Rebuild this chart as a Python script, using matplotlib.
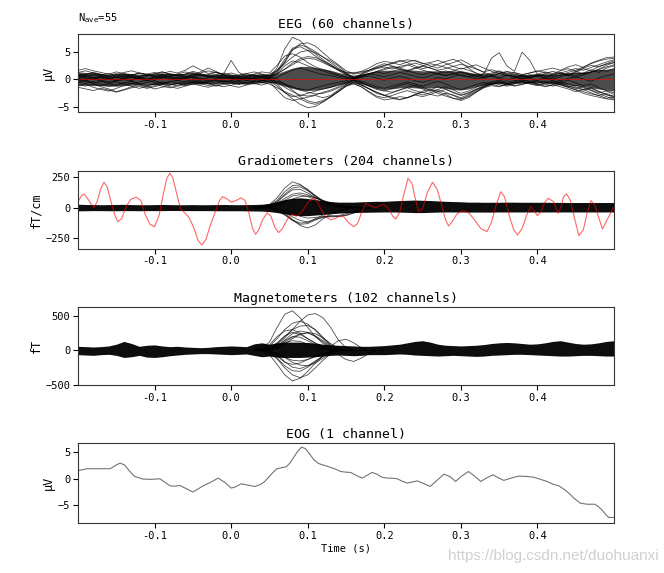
import numpy as np
import matplotlib
matplotlib.use("Agg")
import matplotlib.pyplot as plt

plt.rcParams['font.family'] = ['DejaVu Sans Mono', 'DejaVu Sans']

# ---------------- data ----------------
times = np.round(np.arange(-0.2, 0.5001, 0.01), 2)   # sample times (s)

# EEG channels (uV) sampled at `times`
eeg_ch = [
    [0.8,0.5,0.9,0.6,0.3,0.5,0.9,0.6,0.4,0.7, 0.5,0.2,0.6,0.9,0.5,0.3,0.8,0.4,0.6,0.3,
     0.2,0.5,0.3,0.6,0.4,0.3,2.0,5.5,7.6,7.0, 5.6,4.6,3.5,2.6,1.6,0.8,0.3,0.8,1.4,1.9,
     2.2,1.8,2.3,2.6,2.1,1.6,1.3,1.0,1.5,1.1, 0.6,0.4,0.8,0.3,0.6,0.2,0.7,0.4,0.1,0.3,
     0.5,0.2,0.0,0.4,0.8,1.1,0.9,1.3,1.6,1.4, 1.9],
    [1.2,1.5,1.1,0.8,1.0,0.6,0.3,0.7,1.1,0.8, 0.4,0.6,1.0,0.7,0.9,1.4,1.0,0.6,0.8,1.1,
     0.7,0.4,0.8,0.5,0.9,0.6,1.2,3.0,5.2,6.4, 6.6,6.0,4.8,3.6,2.6,1.5,1.0,1.4,2.0,2.8,
     3.2,3.0,2.6,3.1,3.4,2.9,2.4,2.0,2.6,3.0, 3.5,2.8,1.9,1.2,0.8,1.0,0.6,0.9,0.5,0.8,
     0.6,0.9,0.5,0.7,1.2,1.6,2.2,2.8,3.3,3.6, 3.8],
    [0.3,0.6,0.2,-0.2,0.1,0.4,0.0,-0.3,0.2,0.5, 0.9,1.3,0.8,0.5,0.9,1.2,0.7,0.3,0.5,0.1,
     0.4,0.1,-0.2,0.3,0.6,0.9,1.6,2.8,4.0,4.9, 5.2,4.8,4.0,3.3,2.4,1.2,0.2,0.9,1.6,2.1,
     2.5,2.9,3.4,3.0,2.4,1.9,2.2,2.7,3.2,3.6, 3.0,2.0,1.0,0.5,0.9,1.3,0.8,0.4,0.7,0.3,
     0.6,1.0,1.4,1.0,0.6,1.2,1.9,1.5,2.3,2.7, 3.0],
    [-0.3,-0.1,0.2,-0.2,-0.5,-0.2,0.1,-0.1,0.3,0.0, -0.2,0.2,0.5,0.2,0.0,0.4,0.1,-0.2,0.1,0.4,
     0.1,0.3,0.0,0.2,0.5,0.3,0.9,1.8,2.6,3.4, 3.8,3.6,3.0,2.3,1.6,0.9,0.3,0.6,1.0,0.7,
     0.4,0.8,1.2,0.9,0.5,0.2,0.6,1.0,0.7,0.9, 1.2,0.8,0.3,0.9,3.8,4.8,2.4,1.4,4.9,3.4,
     0.8,0.6,0.3,0.7,1.0,0.6,1.1,1.7,1.2,2.0, 2.4],
    [-0.5,-0.8,-0.4,-0.9,-1.3,-1.0,-0.6,-0.9,-0.5,-0.2, -0.6,-0.9,-0.5,-0.2,-0.6,-0.3,-0.7,-0.4,-0.1,-0.5,
     -0.3,-0.6,-0.2,-0.5,-0.3,-0.1,-0.9,-2.4,-3.6,-4.6, -5.2,-5.0,-4.2,-3.2,-2.2,-1.2,-0.8,-1.4,-2.4,-3.3,
     -3.8,-3.6,-3.2,-3.4,-2.8,-2.2,-1.8,-2.3,-2.8,-3.5, -3.9,-3.4,-2.4,-1.5,-0.9,-0.6,-1.0,-0.7,-0.4,-0.7,
     -0.5,-0.9,-1.3,-1.0,-1.5,-2.0,-2.6,-3.0,-3.3,-3.6, -3.8],
    [-1.0,-1.3,-0.9,-1.4,-1.8,-2.3,-1.9,-1.4,-1.0,-1.3, -1.8,-1.5,-1.1,-0.8,-1.2,-0.9,-0.6,-0.9,-1.3,-1.0,
     -0.7,-0.4,-0.8,-0.5,-0.2,-0.5,-2.0,-3.4,-3.9,-3.6, -3.3,-3.0,-3.4,-3.0,-2.0,-1.0,-0.2,-1.0,-1.8,-2.6,
     -3.0,-2.5,-2.0,-1.6,-2.1,-2.5,-2.0,-1.4,-1.8,-2.5, -3.0,-2.6,-1.8,-1.2,-0.7,-1.0,-1.3,-0.9,-0.5,-0.8,
     -1.1,-0.7,-0.4,-0.8,-1.3,-1.7,-1.4,-2.0,-2.5,-2.2, -2.8],
    [0.9,0.6,0.2,0.5,0.1,-0.3,0.0,0.4,0.1,-0.2, 0.2,0.5,0.1,-0.3,0.1,0.4,0.0,-0.4,-0.1,0.3,
     0.0,-0.3,0.1,-0.2,0.2,0.0,-0.6,-1.5,-2.3,-2.9, -3.1,-2.9,-2.4,-2.0,-1.4,-0.7,-0.1,-0.6,-1.3,-1.9,
     -2.2,-1.7,-1.2,-0.8,-1.3,-1.8,-2.2,-1.9,-1.4,-2.0, -2.6,-2.2,-1.5,-0.9,-0.5,-0.2,-0.6,-0.3,-0.1,-0.4,
     -0.2,0.1,-0.3,-0.6,-0.2,-0.7,-1.2,-0.9,-1.6,-2.1, -2.5],
    [1.6,1.9,1.5,1.2,0.9,1.3,1.0,0.7,1.1,0.9, 0.6,1.0,1.4,1.1,1.6,2.4,1.7,1.0,1.3,0.9,
     3.4,1.2,0.6,0.9,1.3,1.1,2.5,4.2,4.6,4.0, 3.0,2.2,1.7,1.3,0.8,0.4,0.1,0.5,0.9,1.3,
     1.0,1.4,1.8,1.5,1.1,0.8,1.2,0.9,0.6,1.0, 1.4,1.1,0.7,1.0,0.6,0.9,1.3,0.9,0.6,0.4,
     0.8,0.5,0.9,1.2,0.8,1.4,0.9,1.3,1.8,2.5, 3.0],
    [-0.2,0.1,0.4,0.2,-0.1,0.3,0.6,0.3,0.0,-0.3, 0.0,0.3,-0.1,0.2,0.5,0.2,-0.1,0.2,0.5,0.8,
     0.5,0.2,0.5,0.8,0.4,0.1,0.3,1.0,1.6,2.0, 1.6,1.2,0.8,0.6,0.3,0.1,0.0,0.3,0.6,0.2,
     -0.2,0.2,0.5,0.2,-0.3,-0.6,-0.2,0.3,0.0,0.5, 0.8,0.4,0.0,0.3,0.5,0.1,-0.2,0.2,0.5,0.1,
     -0.2,0.2,0.0,-0.3,0.1,0.4,0.0,-0.4,0.2,0.6, 0.9],
    [-1.2,-0.9,-1.5,-1.9,-2.2,-1.7,-1.2,-0.8,-1.1,-1.5, -1.2,-0.8,-0.4,-0.7,-1.0,-0.6,-0.3,-0.7,-1.1,-1.4,
     -1.1,-0.8,-1.0,-0.6,-0.3,-0.1,-0.4,-1.0,-1.5,-1.8, -2.0,-1.6,-1.2,-0.9,-0.6,-0.3,0.1,-0.4,-0.9,-1.4,
     -1.7,-1.3,-0.9,-0.5,-0.9,-1.3,-0.8,-0.4,-0.9,-1.5, -1.9,-1.5,-1.0,-0.6,-1.0,-1.3,-0.9,-0.5,-0.2,-0.5,
     -0.8,-0.4,-0.7,-1.1,-1.5,-1.9,-2.3,-2.7,-3.0,-2.6, -3.2],
    [0.4,0.8,1.1,0.7,0.4,0.8,1.2,1.5,1.1,0.7, 1.0,1.3,0.9,0.6,0.3,0.7,1.1,1.5,1.2,0.8,
     1.1,0.7,1.0,1.3,0.9,0.5,1.4,3.2,5.4,5.9, 5.2,4.2,3.2,2.4,1.7,1.2,1.2,1.3,1.6,2.0,
     2.4,2.8,3.2,3.5,3.3,2.8,3.0,3.4,2.9,2.3, 1.8,2.2,2.6,2.0,1.4,1.0,1.4,1.1,0.8,1.1,
     1.4,1.7,2.0,1.6,2.2,2.6,2.1,2.9,3.4,3.9, 4.0],
    [0.2,-0.3,-0.7,-0.4,-0.8,-1.2,-0.8,-0.4,-0.8,-1.2, -0.9,-0.5,-0.9,-1.3,-1.0,-0.6,-0.9,-0.5,-0.2,-0.6,
     -0.3,0.1,-0.2,0.2,-0.1,0.3,0.0,-1.0,-2.0,-3.2, -4.0,-4.3,-3.9,-3.2,-2.3,-1.3,-0.9,-1.4,-2.3,-3.1,
     -3.4,-3.0,-2.5,-2.1,-2.5,-2.9,-2.5,-2.0,-2.4,-3.0, -3.6,-3.2,-2.4,-1.6,-1.2,-1.4,-1.0,-0.6,-0.9,-0.6,
     -0.3,-0.6,-0.9,-0.5,-0.9,-1.4,-1.9,-1.6,-2.2,-2.9, -3.1],
    [0.5,0.2,-0.1,0.3,0.7,1.0,0.6,0.2,0.5,0.9, 1.2,0.8,0.4,0.1,0.4,0.8,1.3,2.0,1.4,0.6,
     0.3,0.0,0.4,0.1,-0.2,0.2,1.0,2.4,3.3,3.0, 2.4,1.9,1.5,1.0,0.6,0.3,0.0,0.4,0.9,1.3,
     1.7,2.1,1.8,1.4,1.9,2.3,2.0,1.5,1.1,1.5, 2.0,1.6,1.1,0.7,1.1,1.5,1.0,0.6,0.3,0.6,
     0.9,1.3,1.0,1.5,1.9,1.4,2.0,2.5,2.2,2.8, 3.3],
    [-0.6,-0.3,0.0,-0.4,-0.7,-0.4,-0.1,-0.5,-0.9,-0.6, -0.3,-0.7,-1.1,-0.8,-0.4,-0.1,-0.4,-0.8,-0.5,-0.2,
     -0.5,-0.9,-0.6,-0.3,-0.6,-0.9,-1.6,-2.3,-2.9,-3.6, -4.3,-4.6,-4.1,-3.3,-2.3,-1.3,-0.5,-1.1,-1.8,-2.4,
     -2.9,-3.3,-3.7,-3.4,-2.9,-2.4,-2.8,-3.1,-2.6,-2.9, -3.4,-2.8,-2.0,-1.3,-0.8,-0.4,-0.8,-1.2,-0.9,-0.5,
     -0.9,-1.3,-1.0,-1.4,-1.8,-2.3,-1.9,-2.5,-3.0,-3.5, -3.3],
    [0.1,0.4,0.7,0.4,0.1,-0.2,0.2,0.5,0.2,-0.1, 0.3,0.6,0.3,-0.1,0.2,0.5,0.9,0.5,0.2,0.6,
     0.2,-0.2,0.3,0.0,0.3,0.7,1.5,3.6,5.6,6.2, 5.8,5.0,4.0,3.0,2.0,1.0,0.2,0.6,1.0,1.4,
     1.9,2.3,2.0,1.6,2.0,2.4,2.8,2.5,2.1,1.7, 1.3,0.9,0.5,0.2,0.6,1.0,0.7,0.3,0.0,0.3,
     0.6,0.3,0.7,1.1,0.7,0.3,0.8,1.2,1.7,2.2, 2.6],
    [0.0,-0.4,-0.8,-1.2,-0.9,-0.5,-0.9,-1.3,-1.7,-1.3, -0.9,-1.3,-1.6,-1.2,-0.8,-0.4,-0.8,-1.2,-0.8,-0.4,
     -0.7,-1.0,-0.6,-0.9,-0.6,-0.3,-1.3,-2.5,-3.2,-3.0, -2.6,-2.2,-1.8,-1.5,-1.0,-0.6,-0.2,-0.7,-1.2,-1.7,
     -2.1,-2.4,-2.0,-1.5,-1.1,-1.5,-2.0,-2.6,-3.1,-3.5, -3.7,-3.0,-2.2,-1.4,-0.9,-0.5,-0.9,-1.3,-1.0,-0.6,
     -1.0,-1.4,-1.1,-0.7,-1.2,-1.6,-2.0,-1.7,-2.3,-2.8, -3.4],
    [0.6,0.9,1.2,0.9,0.5,0.2,0.5,0.8,0.4,0.0, 0.4,0.8,0.5,0.9,1.3,0.9,0.5,0.8,1.2,0.8,
     0.4,0.7,1.0,0.6,0.3,0.6,1.0,1.8,2.9,3.7, 4.1,3.9,3.3,2.6,1.8,1.1,0.9,1.1,1.6,2.3,
     2.8,2.4,2.0,2.5,2.9,2.5,2.0,1.6,1.9,2.3, 2.7,2.3,1.8,1.3,1.7,1.3,0.9,1.2,0.8,1.1,
     1.5,1.2,0.8,1.1,1.5,1.9,1.6,2.1,2.6,3.1, 3.5],
    [-1.5,-1.8,-2.1,-1.7,-2.0,-2.4,-2.0,-1.6,-1.3,-1.7, -1.4,-1.0,-1.4,-1.7,-1.3,-0.9,-1.2,-1.5,-1.1,-0.8,
     -1.2,-1.5,-1.1,-0.8,-1.1,-0.7,-0.5,-0.9,-1.4,-2.0, -2.4,-2.7,-2.6,-2.2,-1.6,-1.0,-0.7,-1.1,-1.7,-2.4,
     -3.0,-3.5,-3.8,-3.4,-2.9,-3.2,-2.8,-2.3,-1.9,-2.4, -2.9,-2.5,-1.9,-1.4,-1.0,-0.7,-1.1,-0.8,-0.5,-0.9,
     -1.2,-0.9,-0.6,-1.0,-1.4,-1.1,-1.6,-2.1,-2.7,-3.2, -3.7],
]
eeg_core_hi = [1.3,1.2,1.1,1.0,0.9,1.0,1.1,1.0,0.9,0.9, 1.0,1.0,1.0,1.0,1.0,1.2,1.0,0.9,0.9,0.9,
               0.9,0.8,0.8,0.9,0.9,0.8,1.0,1.5,2.0,2.3, 2.3,2.1,1.9,1.6,1.2,0.9,0.7,0.9,1.2,1.5,
               1.6,1.6,1.7,1.7,1.6,1.5,1.5,1.5,1.5,1.5, 1.4,1.2,1.0,0.9,0.9,0.9,0.9,0.8,0.8,0.8,
               0.9,0.9,0.9,1.0,1.1,1.2,1.3,1.5,1.7,1.8, 2.0]
eeg_core_lo = [-1.1,-1.1,-1.2,-1.2,-1.3,-1.3,-1.2,-1.1,-1.0,-1.0, -1.0,-1.0,-0.9,-0.9,-0.9,-0.9,-0.9,-0.8,-0.8,-0.8,
               -0.8,-0.8,-0.8,-0.7,-0.7,-0.6,-0.9,-1.3,-1.7,-2.0, -2.1,-2.0,-1.8,-1.5,-1.1,-0.8,-0.6,-0.9,-1.3,-1.7,
               -1.9,-1.8,-1.6,-1.5,-1.6,-1.7,-1.6,-1.5,-1.7,-1.9, -2.0,-1.8,-1.4,-1.1,-0.9,-0.8,-0.8,-0.7,-0.6,-0.7,
               -0.7,-0.7,-0.8,-0.9,-1.0,-1.2,-1.4,-1.6,-1.8,-2.0, -2.2]
eeg_bad_times = [-0.2, 0.5]
eeg_bad_values = [0.0, 0.0]

# Gradiometers (fT/cm)
grad_core_hi = [28,26,25,24,25,26,27,25,24,24, 25,26,25,24,24,25,24,24,25,26,
                25,24,25,26,28,35,50,65,75,80, 75,65,55,50,45,45,45,48,50,52,
                52,55,58,60,62,60,58,55,52,50, 48,45,45,44,44,44,45,45,44,44,
                44,44,43,43,42,42,42,42,42,42, 42]
grad_core_lo = [-26,-25,-24,-24,-25,-25,-24,-24,-25,-24, -24,-24,-23,-23,-24,-24,-24,-24,-25,-25,
                -25,-25,-26,-27,-28,-32,-40,-50,-60,-65, -65,-60,-55,-50,-45,-42,-40,-38,-37,-36,
                -35,-35,-36,-38,-40,-40,-38,-36,-35,-35, -35,-36,-36,-36,-36,-35,-35,-35,-35,-35,
                -35,-35,-35,-35,-35,-35,-35,-35,-35,-35, -35]
grad_peak_times = [0.03,0.04,0.05,0.06,0.07,0.08,0.09,0.10,0.11,0.12,0.13,0.14,0.15,0.16,0.17,0.18]
grad_peak_ch = [
    [5,10,25,80,160,210,190,140,90,50,25,10,5,0,0,0],
    [0,5,20,60,130,180,185,150,100,55,25,10,0,0,0,0],
    [0,5,15,45,100,145,150,120,80,50,30,15,5,0,0,0],
    [0,0,10,35,75,110,120,105,80,55,35,20,10,5,0,0],
    [0,0,5,20,45,70,90,95,80,60,40,25,15,5,0,0],
    [0,0,10,30,55,70,68,55,40,25,15,5,0,0,0,0],
    [0,5,15,50,110,160,170,140,95,55,30,15,5,0,0,0],
    [0,0,5,25,60,95,105,90,65,40,20,10,0,0,0,0],
    [0,0,-5,-15,-45,-95,-145,-165,-140,-90,-50,-25,-10,0,0,0],
    [0,0,-5,-20,-55,-105,-135,-130,-100,-80,-70,-65,-50,-30,-10,0],
    [0,0,0,-10,-35,-75,-105,-115,-95,-75,-65,-70,-65,-45,-20,0],
    [0,0,0,-5,-20,-45,-70,-85,-80,-72,-75,-72,-60,-40,-15,0],
    [0,0,-5,-25,-60,-100,-125,-120,-90,-60,-40,-25,-10,0,0,0],
]
grad_bad_times = [-0.199,-0.195,-0.192,-0.188,-0.183,-0.179,-0.175,-0.170,-0.166,-0.162,-0.157,-0.152,-0.148,
                  -0.143,-0.137,-0.131,-0.124,-0.118,-0.112,-0.106,-0.100,-0.094,-0.089,-0.084,-0.080,-0.076,
                  -0.071,-0.066,-0.060,-0.055,-0.049,-0.043,-0.038,-0.033,-0.027,-0.020,-0.015,-0.011,-0.005,
                  0.000,0.007,0.013,0.018,0.023,0.028,0.032,0.036,0.041,0.047,0.052,0.057,0.062,0.067,0.072,
                  0.077,0.080,0.085,0.090,0.095,0.101,0.108,0.113,0.118,0.123,0.130,0.137,0.143,0.148,0.153,
                  0.160,0.165,0.171,0.176,0.182,0.189,0.195,0.200,0.206,0.211,0.215,0.220,0.226,0.231,0.236,
                  0.241,0.245,0.250,0.256,0.263,0.269,0.275,0.280,0.284,0.289,0.295,0.302,0.310,0.318,0.326,
                  0.334,0.340,0.346,0.352,0.357,0.363,0.369,0.374,0.380,0.386,0.391,0.395,0.400,0.405,0.409,
                  0.414,0.421,0.427,0.431,0.434,0.438,0.443,0.449,0.454,0.460,0.465,0.470,0.475,0.480,0.485,
                  0.491,0.499]
grad_bad_values = [60,100,110,80,30,3,50,160,207,170,50,-60,-114,-90,10,68,85,60,-60,-135,-155,-60,100,240,
                   280,240,110,-10,-45,-80,-160,-270,-304,-260,-140,-20,60,90,70,45,60,80,60,-40,-170,-217,
                   -180,-100,-40,-70,-160,-203,-170,-110,-60,-54,-70,-50,-10,50,76,40,-20,-70,-100,-85,-65,
                   -80,-120,-155,-130,-30,36,15,0,20,25,-10,-70,-92,-40,120,239,200,60,-32,-10,120,207,150,
                   20,-100,-149,-110,-50,-24,-40,-100,-170,-195,-120,20,130,90,-60,-180,-222,-170,-60,8,-20,
                   -65,-30,40,76,50,-46,10,90,112,60,-100,-228,-180,-40,57,20,-80,-173,-100,0]

# Magnetometers (fT)
mag_core_hi = [60,55,50,55,65,90,130,100,60,75, 80,65,55,60,50,45,40,45,55,60,
               65,60,55,95,110,90,110,120,120,120, 115,105,90,80,75,70,65,60,60,65,
               70,80,90,110,130,140,120,90,75,70, 65,70,75,85,100,110,115,110,100,90,
               95,110,130,140,120,100,90,95,110,130, 140]
mag_core_lo = [-60,-65,-70,-60,-55,-70,-100,-90,-70,-95, -100,-90,-75,-65,-55,-50,-45,-45,-50,-55,
               -60,-55,-50,-70,-90,-80,-95,-100,-100,-100, -95,-90,-80,-70,-65,-70,-75,-70,-60,-60,
               -60,-55,-50,-55,-65,-70,-75,-80,-75,-70, -75,-80,-85,-80,-70,-65,-60,-55,-55,-60,
               -65,-70,-75,-80,-80,-75,-70,-70,-75,-80, -80]
mag_peak_times = [0.03,0.04,0.05,0.06,0.07,0.08,0.09,0.10,0.11,0.12,0.13,0.14,0.15,0.16,0.17,0.18,0.19,0.20]
mag_peak_ch = [
    [20,40,120,330,520,570,470,330,200,100,40,15,5,0,0,0,0,0],
    [0,10,30,80,180,300,420,510,530,470,330,150,40,0,0,0,0,0],
    [0,10,60,170,300,390,420,380,290,170,70,20,0,0,0,0,0,0],
    [0,0,20,100,200,300,350,360,300,190,80,20,0,0,0,0,0,0],
    [0,20,80,200,280,300,250,170,100,40,10,0,0,0,0,0,0,0],
    [0,0,10,50,120,190,240,250,210,140,60,10,0,0,0,0,0,0],
    [0,10,20,60,140,200,190,140,80,30,60,140,160,110,40,0,0,0],
    [0,0,30,70,110,140,130,90,40,10,0,0,0,0,0,0,0,0],
    [0,0,20,60,150,240,280,260,200,120,50,10,0,0,0,0,0,0],
    [0,10,40,110,210,260,230,170,110,60,20,0,0,0,0,0,0,0],
    [0,0,0,30,90,170,230,260,240,180,100,30,0,0,0,0,0,0],
    [0,-10,-60,-200,-350,-437,-400,-300,-180,-80,-20,0,0,0,0,0,0,0],
    [0,0,-30,-120,-250,-350,-390,-350,-250,-140,-50,0,0,0,0,0,0,0],
    [0,0,-20,-110,-220,-290,-300,-240,-160,-80,-20,0,0,0,0,0,0,0],
    [0,0,-10,-40,-100,-170,-210,-220,-180,-110,-50,-60,-130,-157,-110,-40,0,0],
    [0,0,0,-50,-100,-140,-150,-130,-90,-50,-20,0,0,0,0,0,0,0],
    [0,0,-10,-60,-160,-240,-260,-220,-150,-80,-30,0,0,0,0,0,0,0],
    [0,0,-20,-80,-170,-200,-180,-130,-80,-40,-10,0,0,0,0,0,0,0],
]

# EOG (uV)
eog_times = [-0.199,-0.188,-0.170,-0.158,-0.150,-0.145,-0.139,-0.133,-0.126,-0.115,-0.104,-0.093,-0.086,
             -0.080,-0.073,-0.067,-0.058,-0.050,-0.043,-0.035,-0.026,-0.017,-0.008,0.000,0.006,0.013,
             0.022,0.031,0.038,0.044,0.052,0.059,0.066,0.072,0.077,0.081,0.087,0.092,0.097,0.103,0.108,
             0.114,0.120,0.127,0.135,0.143,0.150,0.156,0.164,0.171,0.178,0.184,0.190,0.197,0.204,0.211,
             0.217,0.224,0.230,0.237,0.243,0.250,0.260,0.268,0.278,0.286,0.293,0.301,0.310,0.318,0.326,
             0.334,0.342,0.349,0.356,0.365,0.375,0.385,0.395,0.404,0.4125,0.420,0.428,0.435,0.441,0.448,
             0.456,0.465,0.475,0.480,0.484,0.489,0.493,0.499]
eog_values = [1.57,1.9,1.9,1.9,2.6,2.96,2.6,1.5,0.44,-0.06,-0.1,0.0,-0.7,-1.32,-1.4,-1.26,-1.9,-2.5,-1.9,
              -1.2,-0.6,0.13,-0.7,-1.76,-1.5,-0.94,-1.2,-1.45,-1.1,-0.5,0.8,1.83,2.1,2.27,3.0,3.9,5.2,
              5.98,5.7,4.6,3.6,2.9,2.6,2.3,1.9,1.38,1.25,1.2,0.6,0.13,0.7,1.2,0.9,0.3,0.13,0.1,0.0,-0.5,
              -0.8,-0.6,-0.4,-0.8,-1.45,-0.4,0.88,0.4,-0.5,0.5,1.38,0.5,-0.5,0.2,0.75,0.2,-0.3,0.1,0.5,
              0.45,0.3,-0.1,-0.5,-1.0,-1.32,-2.0,-2.7,-3.7,-4.6,-4.8,-4.8,-5.3,-5.85,-6.7,-7.3,-7.3]

titles = ["EEG (60 channels)", "Gradiometers (204 channels)",
          "Magnetometers (102 channels)", "EOG (1 channel)"]
ylabels = ["μV", "fT/cm", "fT", "μV"]
ylims = [(-6.0, 8.2), (-334, 301), (-495, 620), (-8.4, 6.7)]
yticks = [[-5, 0, 5], [-250, 0, 250], [-500, 0, 500], [-5, 0, 5]]
xticks = [-0.1, 0.0, 0.1, 0.2, 0.3, 0.4]
nave = 55

# ---------------- figure ----------------
fig = plt.figure(figsize=(6.64, 5.73), dpi=100)
L, W = 78/664, 536/664
rects = [(L, 1-112/573, W, 78/573), (L, 1-248.7/573, W, 78/573),
         (L, 1-385.3/573, W, 78/573), (L, 1-523.3/573, W, 80/573)]
axes = [fig.add_axes(r) for r in rects]

lw_ch = 0.6
al_ch = 0.7

ax = axes[0]
ax.fill_between(times, eeg_core_lo, eeg_core_hi, color='k', alpha=0.7, lw=0)
for ch in eeg_ch:
    ax.plot(times, ch, color='k', lw=lw_ch, alpha=al_ch)
ax.plot(eeg_bad_times, eeg_bad_values, color='red', lw=0.8, alpha=0.6)

ax = axes[1]
for ch in grad_peak_ch:
    ax.plot(grad_peak_times, ch, color='k', lw=lw_ch, alpha=al_ch)
ax.fill_between(times, grad_core_lo, grad_core_hi, color='k', alpha=0.95, lw=0)
ax.plot(grad_bad_times, grad_bad_values, color='red', lw=0.8, alpha=0.6)

ax = axes[2]
for ch in mag_peak_ch:
    ax.plot(mag_peak_times, ch, color='k', lw=lw_ch, alpha=al_ch)
ax.fill_between(times, mag_core_lo, mag_core_hi, color='k', alpha=0.95, lw=0)

ax = axes[3]
ax.plot(eog_times, eog_values, color='k', lw=0.8, alpha=0.55)

for i, ax in enumerate(axes):
    ax.set_xlim(-0.2, 0.5)
    ax.set_ylim(*ylims[i])
    ax.set_yticks(yticks[i])
    ax.set_xticks(xticks)
    ax.set_xticklabels([f"{v:.1f}" for v in xticks])
    ax.tick_params(labelsize=7.5, length=3.5, width=0.8, pad=2)
    ax.set_title(titles[i], fontsize=9.5, pad=4)
    ax.set_ylabel(ylabels[i], fontsize=8.5, labelpad=2)
    for s in ax.spines.values():
        s.set_linewidth(0.8)
        s.set_color('#333333')

axes[3].set_xlabel("Time (s)", fontsize=7.5, labelpad=2)

fig.text(L, 1-21/573, r"N$_{\mathrm{ave}}$=" + str(nave), fontsize=7.5, va='baseline')
fig.text(0.992, 0.022, "https://blog.csdn.net/duohuanxi", fontsize=11,
         color='#d0d0d0', ha='right', va='baseline', family='Liberation Sans')

fig.savefig("out.png", dpi=100)
